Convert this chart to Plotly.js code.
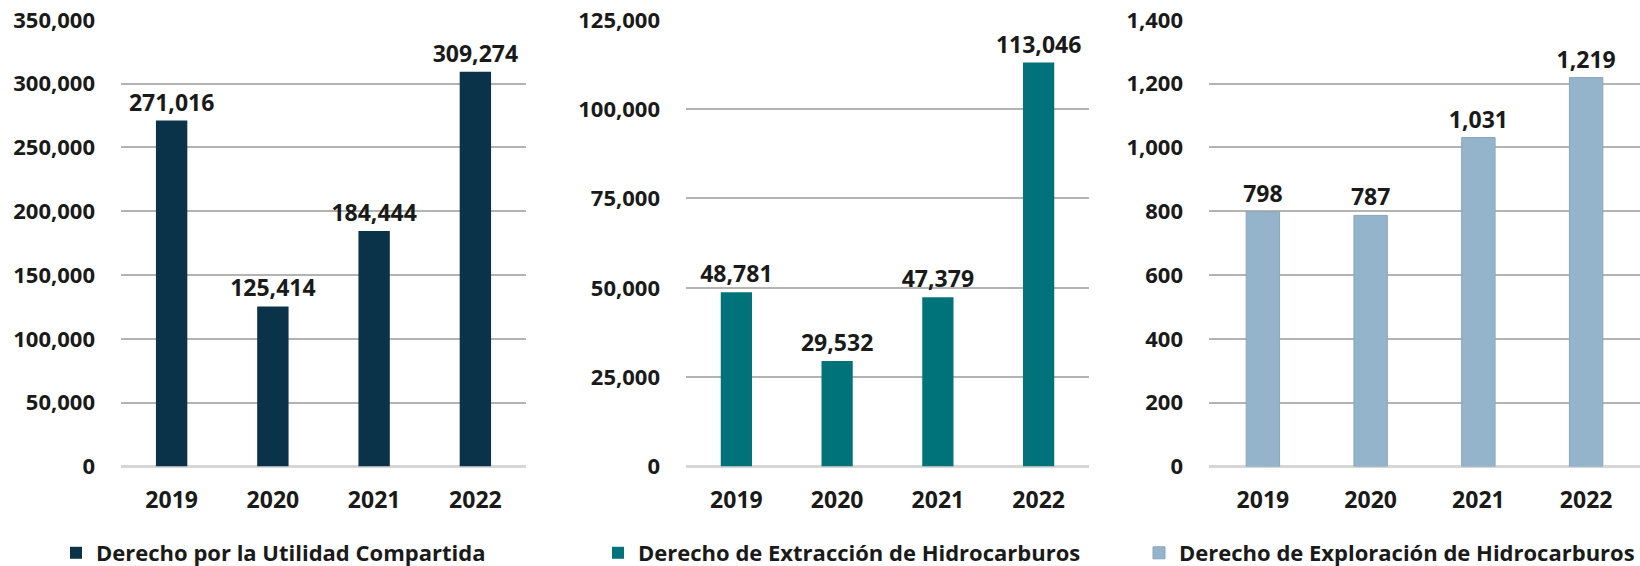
<!DOCTYPE html>
<html>
<head>
<meta charset="utf-8">
<script src="https://cdn.plot.ly/plotly-3.0.1.min.js"></script>
<style>
  html, body { margin: 0; padding: 0; background: #ffffff; }
  #chart { width: 1640px; height: 566px; }
</style>
</head>
<body>
<div id="chart"></div>
<script>
var years = ['2019', '2020', '2021', '2022'];

var utilidadName = 'Derecho por la Utilidad Compartida';
var utilidadValues = [271016, 125414, 184444, 309274];

var extraccionName = 'Derecho de Extracción de Hidrocarburos';
var extraccionValues = [48781, 29532, 47379, 113046];

var exploracionName = 'Derecho de Exploración de Hidrocarburos';
var exploracionValues = [798, 787, 1031, 1219];

var FONT = 'Open Sans, Noto Sans, sans-serif';
var INK = '#1a1a1a';

function barTrace(name, values, color, axisNum, legendId, lineColor) {
    var suffix = axisNum === 1 ? '' : String(axisNum);
    return {
        type: 'bar',
        name: name,
        x: years,
        y: values,
        xaxis: 'x' + suffix,
        yaxis: 'y' + suffix,
        legend: legendId,
        marker: { color: color, line: { color: lineColor || color, width: lineColor ? 1 : 0 } },
        texttemplate: '%{y:,}',
        textposition: 'outside',
        constraintext: 'none',
        cliponaxis: false,
        textfont: { family: FONT, size: 23, weight: 700, color: INK },
        hoverinfo: 'x+y'
    };
}

function xAxis(domain, anchor) {
    return {
        domain: domain,
        anchor: anchor,
        type: 'category',
        showgrid: false,
        showline: false,
        zeroline: false,
        ticks: '',
        ticklabelstandoff: 18,
        automargin: false,
        tickfont: { family: FONT, size: 23, weight: 700, color: INK },
        fixedrange: true
    };
}

function yAxis(range, dtick, anchor) {
    return {
        domain: [0.1758, 0.965],
        anchor: anchor,
        range: range,
        dtick: dtick,
        tickformat: ',d',
        showgrid: true,
        gridcolor: '#b3b3b3',
        gridwidth: 2,
        zeroline: true,
        zerolinecolor: '#d6d6d6',
        zerolinewidth: 3,
        showline: false,
        ticks: '',
        ticklabelstandoff: 25,
        automargin: false,
        tickfont: { family: FONT, size: 22, weight: 700, color: INK },
        fixedrange: true
    };
}

function legendAt(x) {
    return {
        x: x,
        xanchor: 'left',
        y: 0.023,
        yanchor: 'middle',
        orientation: 'h',
        bgcolor: 'rgba(0,0,0,0)',
        borderwidth: 0,
        font: { family: FONT, size: 22, weight: 700, color: INK }
    };
}

var data = [
    barTrace(utilidadName, utilidadValues, '#0a3249', 1, 'legend'),
    barTrace(extraccionName, extraccionValues, '#00737a', 2, 'legend2'),
    barTrace(exploracionName, exploracionValues, '#94b4cb', 3, 'legend3', '#8aa6ba')
];

var layout = {
    width: 1640,
    height: 566,
    margin: { l: 0, r: 0, t: 0, b: 0, autoexpand: false },
    paper_bgcolor: '#ffffff',
    plot_bgcolor: '#ffffff',
    bargap: 0.69,
    showlegend: true,
    font: { family: FONT, color: INK },
    xaxis: xAxis([121 / 1640, 526 / 1640], 'y'),
    yaxis: yAxis([0, 350000], 50000, 'x'),
    xaxis2: xAxis([686 / 1640, 1089 / 1640], 'y2'),
    yaxis2: yAxis([0, 125000], 25000, 'x2'),
    xaxis3: xAxis([1209 / 1640, 1], 'y3'),
    yaxis3: yAxis([0, 1400], 200, 'x3'),
    legend: legendAt(56 / 1640),
    legend2: legendAt(598 / 1640),
    legend3: legendAt(1139 / 1640)
};

Plotly.newPlot('chart', data, layout, { displayModeBar: false, staticPlot: true });
</script>
</body>
</html>
